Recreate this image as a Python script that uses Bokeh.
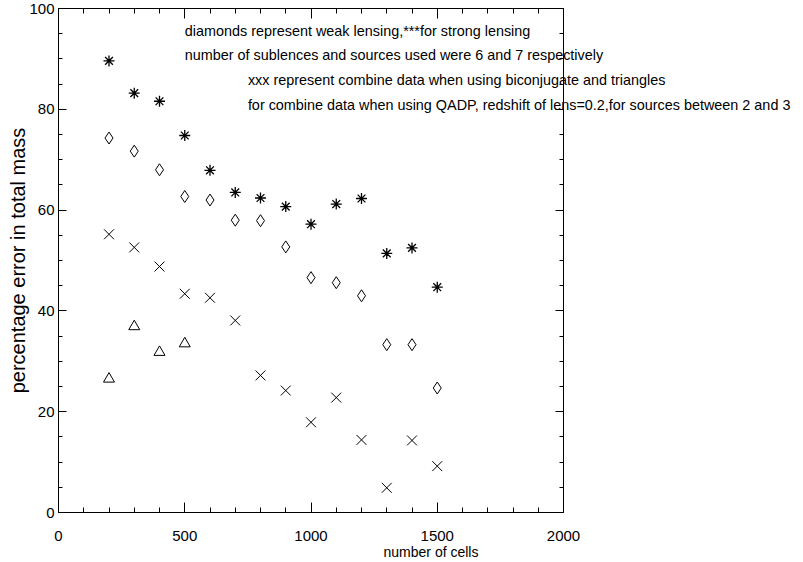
from bokeh.plotting import figure
from bokeh.models import Range1d, LinearAxis, SingleIntervalTicker, Label, CustomJSTickFormatter
from bokeh.embed import file_html
from bokeh.resources import INLINE

# ---- data ----
cells = [200, 300, 400, 500, 600, 700, 800, 900, 1000, 1100, 1200, 1300, 1400, 1500]
strong = [89.6, 83.2, 81.6, 74.8, 67.9, 63.5, 62.4, 60.7, 57.2, 61.2, 62.3, 51.4, 52.5, 44.7]
weak = [74.3, 71.7, 68.0, 62.7, 62.0, 58.0, 57.9, 52.7, 46.6, 45.6, 43.0, 33.3, 33.3, 24.7]
combined_bt = [55.2, 52.6, 48.8, 43.4, 42.6, 38.1, 27.2, 24.2, 17.9, 22.8, 14.4, 4.9, 14.3, 9.2]
qadp_cells = [200, 300, 400, 500]
qadp = [26.5, 36.9, 31.8, 33.5]

notes = [
    "diamonds represent weak lensing,***for strong lensing",
    "number of sublences and sources used were 6 and 7 respectively",
    "xxx represent combine data when using biconjugate and triangles",
    "for combine data when using QADP, redshift of lens=0.2,for sources between 2 and 3",
]
note_x = [500, 500, 750, 750]
note_y = [95.5, 90.8, 85.8, 80.9]

X_MIN, X_MAX = 0, 2000     # plotted box
Y_MIN, Y_MAX = 0, 100

FONT = "Liberation Sans"

# frame extends to the right of the box so the notes can overflow it, as in the reference
p = figure(frame_width=745, frame_height=504, output_backend="svg", toolbar_location=None,
           x_range=Range1d(X_MIN, X_MAX * 745 / 505), y_range=Range1d(Y_MIN, Y_MAX),
           min_border_left=58, min_border_right=0, min_border_top=8, min_border_bottom=48)
p.grid.visible = False
p.outline_line_color = None
p.background_fill_color = "white"
p.border_fill_color = "white"

blank = CustomJSTickFormatter(code="return ''")

def style_x(ax):
    ax.ticker = SingleIntervalTicker(interval=500, num_minor_ticks=5)
    ax.bounds = (X_MIN, X_MAX)
    ax.major_tick_in = 10
    ax.major_tick_out = 0
    ax.minor_tick_in = 5
    ax.minor_tick_out = 0
    ax.axis_line_color = "black"
    ax.major_tick_line_color = "black"
    ax.minor_tick_line_color = "black"
    ax.major_label_text_color = "black"
    ax.axis_label_text_color = "black"

def style_y(ax):
    ax.ticker = SingleIntervalTicker(interval=20, num_minor_ticks=4)
    ax.major_tick_in = 8
    ax.major_tick_out = 0
    ax.minor_tick_in = 4
    ax.minor_tick_out = 0
    ax.axis_line_color = "black"
    ax.major_tick_line_color = "black"
    ax.minor_tick_line_color = "black"
    ax.major_label_text_color = "black"
    ax.axis_label_text_color = "black"

xa = p.xaxis[0]
style_x(xa)
xa.axis_label = "number of cells"
xa.axis_label_text_font = FONT
xa.axis_label_text_font_size = "14px"
xa.axis_label_text_font_style = "normal"
xa.axis_label_standoff = 0
xa.major_label_text_font = FONT
xa.major_label_text_font_size = "15px"
xa.major_label_standoff = 18

ya = p.yaxis[0]
style_y(ya)
ya.axis_label = "percentage error in total mass"
ya.axis_label_text_font = FONT
ya.axis_label_text_font_size = "20px"
ya.axis_label_text_font_style = "normal"
ya.axis_label_standoff = -3
ya.major_label_text_font = FONT
ya.major_label_text_font_size = "15px"
ya.major_label_standoff = 4

top = LinearAxis(formatter=blank)
style_x(top)
top.major_label_standoff = 0
p.add_layout(top, "above")

right = LinearAxis(formatter=blank, fixed_location=X_MAX)
style_y(right)
right.major_label_standoff = 0
p.add_layout(right, "right")

p.scatter(cells, strong, marker="asterisk", size=11, line_color="black", line_width=1.3)
p.scatter(cells, weak, marker="diamond", size=12, line_color="black", fill_color=None, line_width=1)
p.scatter(cells, combined_bt, marker="x", size=14, line_color="black", line_width=1)
p.scatter(qadp_cells, qadp, marker="triangle", size=11, line_color="black", fill_color=None, line_width=1)

for t, x, y in zip(notes, note_x, note_y):
    p.add_layout(Label(x=x, y=y, text=t, text_font=FONT, text_font_size="14.4px",
                       text_color="black", text_baseline="alphabetic", text_align="left"))

open("out.html", "w").write(file_html(p, INLINE))
